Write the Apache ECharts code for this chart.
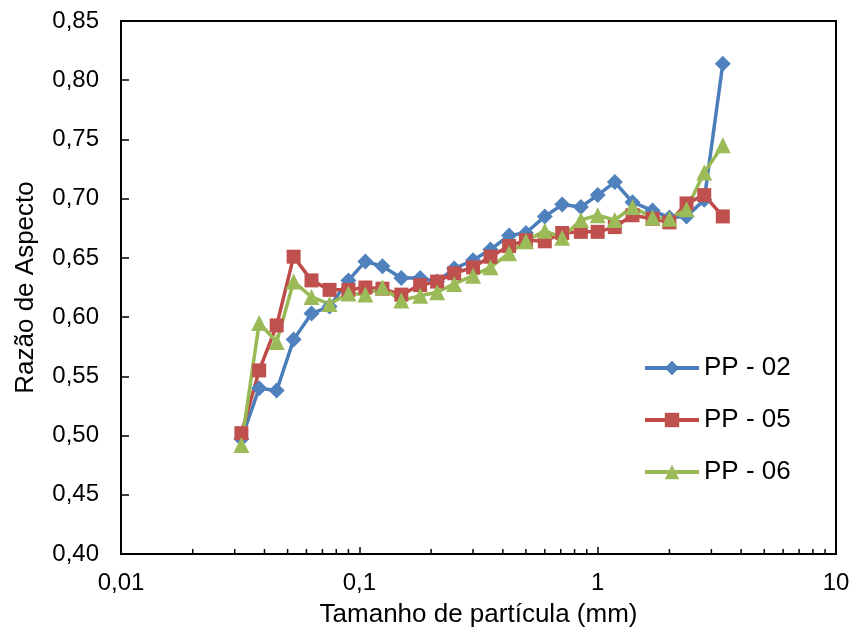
<!DOCTYPE html>
<html>
<head>
<meta charset="utf-8">
<script src="https://cdn.jsdelivr.net/npm/echarts@6/dist/echarts.min.js"></script>
<style>
  html, body { margin: 0; padding: 0; background: #fff; }
  #chart { width: 856px; height: 643px; }
</style>
</head>
<body>
<div id="chart"></div>
<script>
// particle size (mm), sieve openings
const sizes = [0.032, 0.038, 0.045, 0.053, 0.063, 0.075, 0.090, 0.106, 0.125, 0.150,
  0.180, 0.212, 0.250, 0.300, 0.355, 0.425, 0.500, 0.600, 0.710, 0.850,
  1.00, 1.18, 1.40, 1.70, 2.00, 2.36, 2.80, 3.35];

const pp02 = [0.497, 0.540, 0.538, 0.581, 0.603, 0.609, 0.631, 0.647, 0.643, 0.633,
  0.633, 0.630, 0.641, 0.648, 0.657, 0.669, 0.671, 0.685, 0.695, 0.693,
  0.703, 0.714, 0.697, 0.690, 0.684, 0.685, 0.699, 0.814];

const pp05 = [0.502, 0.555, 0.593, 0.651, 0.631, 0.623, 0.623, 0.625, 0.624, 0.619,
  0.627, 0.630, 0.637, 0.642, 0.651, 0.660, 0.665, 0.664, 0.671, 0.672,
  0.672, 0.676, 0.686, 0.683, 0.680, 0.696, 0.703, 0.685];

const pp06 = [0.492, 0.595, 0.579, 0.630, 0.617, 0.611, 0.620, 0.619, 0.625, 0.614,
  0.618, 0.621, 0.628, 0.635, 0.642, 0.654, 0.664, 0.673, 0.667, 0.682,
  0.686, 0.682, 0.693, 0.684, 0.683, 0.691, 0.722, 0.745];

const seriesNames = ['PP - 02', 'PP - 05', 'PP - 06'];

// minor tick positions on the log axis
const minorTicks = [0.02, 0.03, 0.04, 0.05, 0.06, 0.07, 0.08, 0.09,
  0.2, 0.3, 0.4, 0.5, 0.6, 0.7, 0.8, 0.9,
  2, 3, 4, 5, 6, 7, 8, 9];

const FONT = 'Liberation Sans';
const Y_MIN = 0.40;

const chart = echarts.init(document.getElementById('chart'), null, { renderer: 'canvas' });

function pairs(ys) {
  return sizes.map((x, i) => [x, ys[i]]);
}

function lineSeries(name, ys, symbol, size, lineColor, fillColor) {
  return {
    name: name,
    type: 'line',
    data: pairs(ys),
    symbol: symbol,
    symbolSize: size,
    showAllSymbol: true,
    animation: false,
    lineStyle: { color: lineColor, width: 3.5 },
    itemStyle: { color: fillColor, borderColor: fillColor, borderWidth: 0 },
    emphasis: { disabled: true }
  };
}

const option = {
  animation: false,
  grid: {
    left: 121, top: 21, right: 20, bottom: 89,
    show: true, borderColor: '#000', borderWidth: 2
  },
  legend: {
    orient: 'vertical',
    left: 638,
    top: 350,
    itemWidth: 54,
    itemHeight: 18,
    itemGap: 26,
    lineStyle: { width: 4 },
    textStyle: { fontFamily: FONT, fontSize: 26, color: '#000' },
    data: seriesNames
  },
  xAxis: {
    type: 'log',
    logBase: 10,
    min: 0.01,
    max: 10,
    name: 'Tamanho de partícula (mm)',
    nameLocation: 'middle',
    nameGap: 48,
    nameTextStyle: { fontFamily: FONT, fontSize: 26, color: '#000' },
    axisLine: { lineStyle: { color: '#000', width: 2 } },
    axisTick: { inside: true, length: 7, lineStyle: { color: '#000', width: 1.5 } },
    axisLabel: {
      fontFamily: FONT, fontSize: 24, color: '#000', margin: 17,
      formatter: v => String(Number(v.toPrecision(6))).replace('.', ',')
    },
    splitLine: { show: false }
  },
  yAxis: {
    type: 'value',
    min: 0.40,
    max: 0.85,
    interval: 0.05,
    name: 'Razão de Aspecto',
    nameLocation: 'middle',
    nameGap: 82,
    nameTextStyle: { fontFamily: FONT, fontSize: 26, color: '#000' },
    axisLine: { show: true, lineStyle: { color: '#000', width: 2 } },
    axisTick: { show: true, inside: true, length: 8, lineStyle: { color: '#000', width: 1.5 } },
    axisLabel: {
      fontFamily: FONT, fontSize: 24, color: '#000', margin: 22,
      formatter: v => v.toFixed(2).replace('.', ',')
    },
    splitLine: { show: false }
  },
  series: [
    {
      type: 'custom',
      silent: true,
      animation: false,
      clip: false,
      data: minorTicks.map(v => [v, Y_MIN]),
      renderItem: function (params, api) {
        const p = api.coord([api.value(0), api.value(1)]);
        return {
          type: 'line',
          shape: { x1: p[0], y1: p[1], x2: p[0], y2: p[1] - 5 },
          style: { stroke: '#000', lineWidth: 1.5 }
        };
      }
    },
    lineSeries(seriesNames[0], pp02, 'diamond', 16, '#4A7EBB', '#4F81BD'),
    lineSeries(seriesNames[1], pp05, 'rect', 14, '#BE4B48', '#C0504D'),
    lineSeries(seriesNames[2], pp06, 'triangle', 16, '#98B954', '#9BBB59')
  ]
};

chart.setOption(option);
</script>
</body>
</html>
